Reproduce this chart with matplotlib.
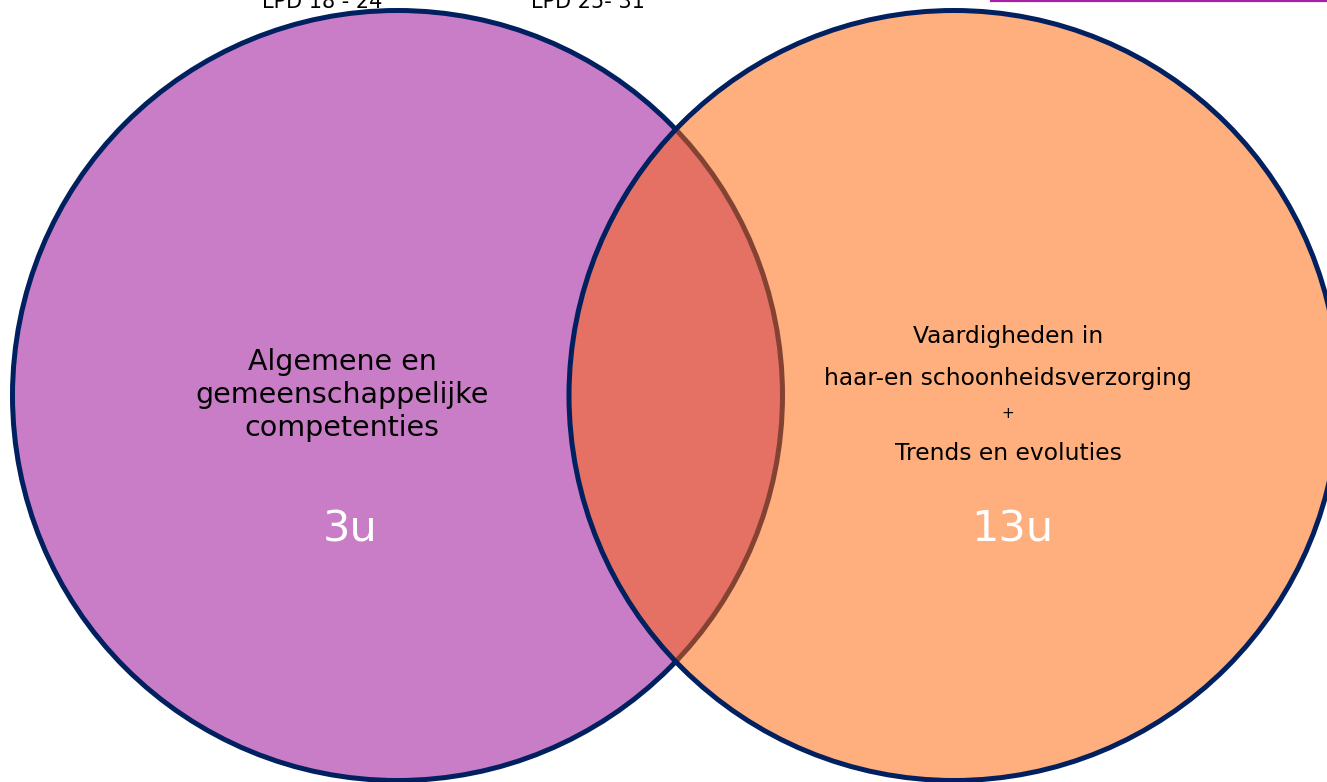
import matplotlib.pyplot as plt
from matplotlib.patches import Circle, Rectangle

plt.rcParams['font.family'] = ['DejaVu Sans']

# two sets of the diagram
set_names = ["LPD 18 - 24", "LPD 25- 31"]
left_lines = ["Algemene en", "gemeenschappelijke", "competenties"]
right_lines = ["Vaardigheden in", "haar-en schoonheidsverzorging", "+", "Trends en evoluties"]
hours = ["3u", "13u"]

NAVY = "#002060"
PURPLE = "#C97DC7"
ORANGE = (1.0, 0.396, 0.035, 0.52)

W, H = 1327, 782
fig = plt.figure(figsize=(W / 100, H / 100), dpi=100)
ax = fig.add_axes([0, 0, 1, 1])
ax.set_xlim(0, W)
ax.set_ylim(H, 0)
ax.set_aspect("equal")
ax.axis("off")

# circles (left under, right on top, semi transparent)
ax.add_patch(Circle((397.5, 395.5), 385, facecolor=PURPLE, edgecolor=NAVY, lw=3.6, zorder=1))
ax.add_patch(Circle((954, 395.5), 385, facecolor=ORANGE, edgecolor=NAVY, lw=3.6, zorder=2))

# bit of a frame peeking in at the top right
ax.add_patch(Rectangle((991, -60), 400, 61, facecolor="none", edgecolor="#A81FA8",
                       lw=1.6, zorder=3, clip_on=True))

# set labels, mostly cut off at the top (as in the source slide)
ax.text(322, 8, set_names[0], ha="center", va="baseline", fontsize=15, color="black")
ax.text(588, 8, set_names[1], ha="center", va="baseline", fontsize=15, color="black")

# left circle text
for y, s in zip([362, 395, 428], left_lines):
    ax.text(342, y, s, ha="center", va="center", fontsize=20.5, color="black", zorder=4)
ax.text(350, 530, hours[0], ha="center", va="center", fontsize=31, color="white", zorder=4)

# right circle text
for y, s in zip([336, 378, 414, 453], right_lines):
    fs = 11 if s == "+" else 16.8
    ax.text(1008, y, s, ha="center", va="center", fontsize=fs, color="black", zorder=4)
ax.text(1012, 530, hours[1], ha="center", va="center", fontsize=31, color="white", zorder=4)

fig.savefig("out.png", dpi=100)
